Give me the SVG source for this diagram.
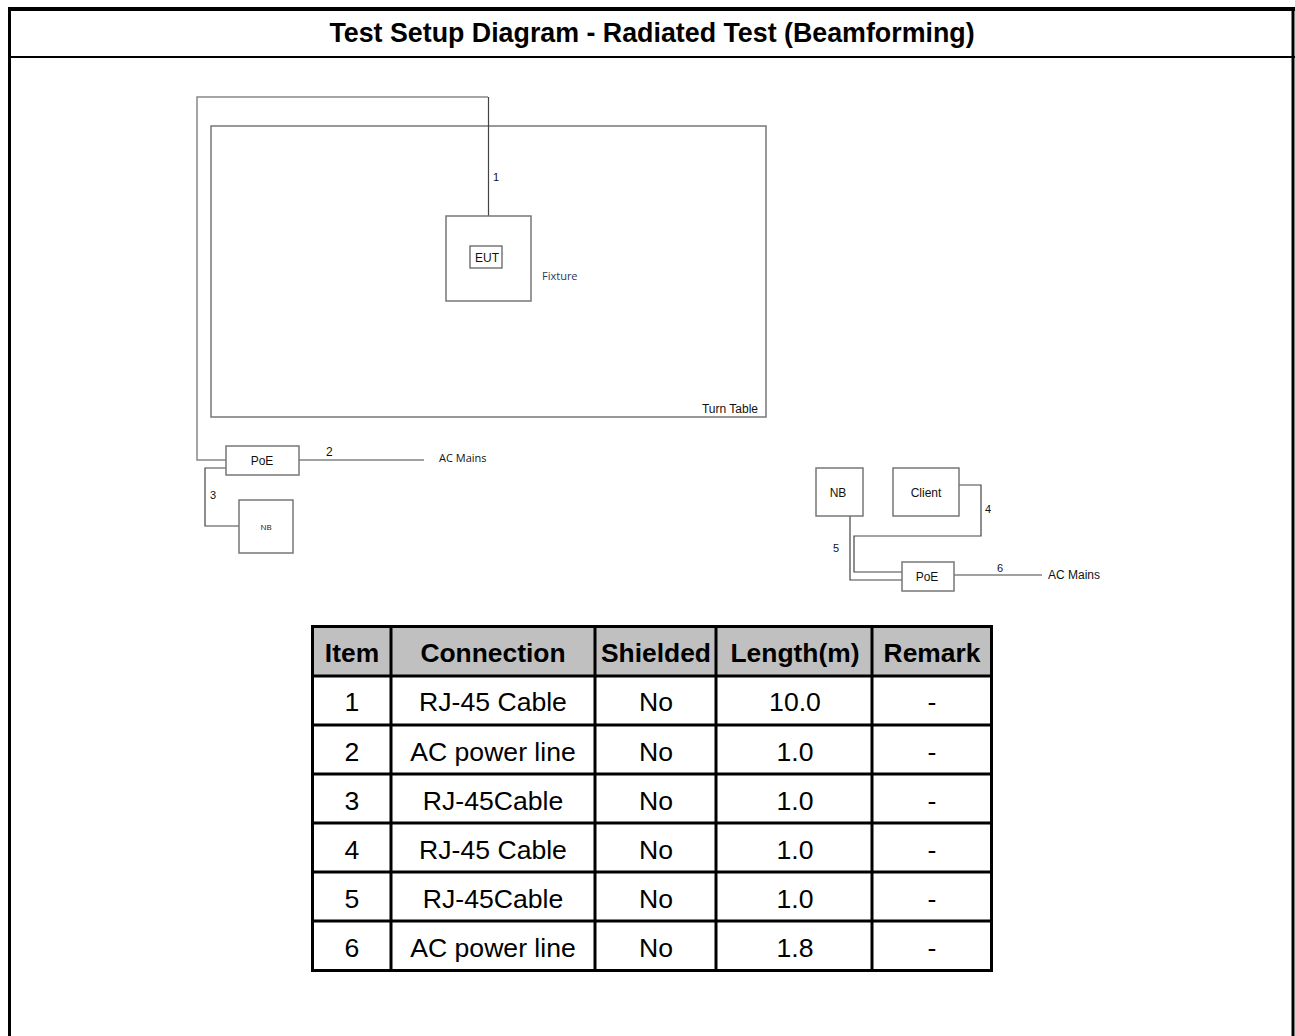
<svg xmlns="http://www.w3.org/2000/svg" width="1295" height="1036" viewBox="0 0 1295 1036">
<style>
.frame{stroke:#000;fill:none}
.box{fill:#fff;stroke:#777;stroke-width:1.5}
.boxd{fill:#fff;stroke:#555;stroke-width:1.2}
.cable{fill:none;stroke:#444;stroke-width:1.2}
.cableg{fill:none;stroke:#888;stroke-width:1.5}
.lbl{font-family:"Liberation Sans",Arial,sans-serif;font-size:12px;fill:#111}
.sm{font-family:"Liberation Sans",Arial,sans-serif;font-size:11px;fill:#111}
.seg{font-family:"Open Sans","Noto Sans",sans-serif;font-size:11px;fill:#111}
.title{font-family:"Liberation Sans",Arial,sans-serif;font-size:26.8px;font-weight:bold;fill:#000}
.th{font-family:"Liberation Sans",Arial,sans-serif;font-size:26.4px;font-weight:bold;fill:#000}
.td{font-family:"Liberation Sans",Arial,sans-serif;font-size:26.6px;fill:#000}
.grid{stroke:#000;stroke-width:3;fill:none}
</style>
<rect width="1295" height="1036" fill="#fff"/>
<g id="frame">
<line class="frame" x1="8" y1="9" x2="1295" y2="9" stroke-width="4"/>
<line class="frame" x1="9.5" y1="7" x2="9.5" y2="1036" stroke-width="3"/>
<line class="frame" x1="1293" y1="7" x2="1293" y2="1036" stroke-width="3"/>
<line class="frame" x1="8" y1="57" x2="1295" y2="57" stroke-width="2"/>
<text class="title" x="652" y="42" text-anchor="middle">Test Setup Diagram - Radiated Test (Beamforming)</text>
</g>
<g id="turntable">
<rect x="211" y="126" width="555" height="291" fill="none" stroke="#777" stroke-width="1.5"/>
<text class="lbl" x="758" y="413" text-anchor="end">Turn Table</text>
</g>
<g id="connectors">
<polyline class="cableg" points="226,460 197,460 197,97 488,97"/>
<line class="cable" x1="488.5" y1="97" x2="488.5" y2="216"/>
<polyline class="cable" points="226,468 205,468 205,526 239,526"/>
<line class="cable" x1="299" y1="460" x2="424" y2="460"/>
<polyline class="cable" points="959,485 981,485 981,536 854,536 854,572 902,572"/>
<polyline class="cable" points="850,516 850,580 902,580"/>
<line class="cable" x1="954" y1="575" x2="1042" y2="575"/>
<text class="sm" x="493" y="181">1</text>
<text class="lbl" x="326" y="456">2</text>
<text class="sm" x="210" y="499">3</text>
<text class="sm" x="985" y="513">4</text>
<text class="sm" x="833" y="552">5</text>
<text class="sm" x="997" y="572">6</text>
<text class="seg" x="439" y="462">AC Mains</text>
<text class="lbl" x="1048" y="579">AC Mains</text>
</g>
<g id="fixture">
<rect class="box" x="446" y="216" width="85" height="85"/>
<text class="seg" x="542" y="280" style="fill:#1f3a60">Fixture</text>
</g>
<g id="eut">
<rect class="boxd" x="470" y="246" width="32" height="22"/>
<text class="lbl" x="487" y="262" text-anchor="middle">EUT</text>
</g>
<g id="poe1">
<rect class="box" x="226" y="446" width="73" height="29"/>
<text class="lbl" x="262" y="465" text-anchor="middle">PoE</text>
</g>
<g id="nb1">
<rect class="box" x="239" y="500" width="54" height="53"/>
<text class="seg" x="266" y="530" text-anchor="middle" style="font-size:8px">NB</text>
</g>
<g id="nb2">
<rect class="box" x="816" y="468" width="47" height="48"/>
<text class="lbl" x="838" y="497" text-anchor="middle">NB</text>
</g>
<g id="client">
<rect class="box" x="893" y="468" width="66" height="48"/>
<text class="lbl" x="926" y="497" text-anchor="middle">Client</text>
</g>
<g id="poe2">
<rect class="box" x="902" y="562" width="52" height="29"/>
<text class="lbl" x="927" y="581" text-anchor="middle">PoE</text>
</g>
<g id="table">
<rect x="312" y="626" width="679" height="50" fill="#c0c0c0"/>
<rect class="grid" x="312.5" y="626.5" width="679" height="344"/>
<line class="grid" x1="391" y1="626" x2="391" y2="971"/>
<line class="grid" x1="595" y1="626" x2="595" y2="971"/>
<line class="grid" x1="716" y1="626" x2="716" y2="971"/>
<line class="grid" x1="872" y1="626" x2="872" y2="971"/>
<line class="grid" x1="312" y1="676" x2="992" y2="676"/>
<line class="grid" x1="312" y1="725" x2="992" y2="725"/>
<line class="grid" x1="312" y1="774" x2="992" y2="774"/>
<line class="grid" x1="312" y1="823" x2="992" y2="823"/>
<line class="grid" x1="312" y1="872" x2="992" y2="872"/>
<line class="grid" x1="312" y1="921" x2="992" y2="921"/>
<g text-anchor="middle">
<text class="th" x="352" y="662">Item</text>
<text class="th" x="493" y="662">Connection</text>
<text class="th" x="656" y="662">Shielded</text>
<text class="th" x="795" y="662">Length(m)</text>
<text class="th" x="932" y="662">Remark</text>
<text class="td" x="352" y="711">1</text><text class="td" x="493" y="711">RJ-45 Cable</text><text class="td" x="656" y="711">No</text><text class="td" x="795" y="711">10.0</text><text class="td" x="932" y="711">-</text>
<text class="td" x="352" y="761">2</text><text class="td" x="493" y="761">AC power line</text><text class="td" x="656" y="761">No</text><text class="td" x="795" y="761">1.0</text><text class="td" x="932" y="761">-</text>
<text class="td" x="352" y="810">3</text><text class="td" x="493" y="810">RJ-45Cable</text><text class="td" x="656" y="810">No</text><text class="td" x="795" y="810">1.0</text><text class="td" x="932" y="810">-</text>
<text class="td" x="352" y="859">4</text><text class="td" x="493" y="859">RJ-45 Cable</text><text class="td" x="656" y="859">No</text><text class="td" x="795" y="859">1.0</text><text class="td" x="932" y="859">-</text>
<text class="td" x="352" y="908">5</text><text class="td" x="493" y="908">RJ-45Cable</text><text class="td" x="656" y="908">No</text><text class="td" x="795" y="908">1.0</text><text class="td" x="932" y="908">-</text>
<text class="td" x="352" y="957">6</text><text class="td" x="493" y="957">AC power line</text><text class="td" x="656" y="957">No</text><text class="td" x="795" y="957">1.8</text><text class="td" x="932" y="957">-</text>
</g>
</g>
</svg>
